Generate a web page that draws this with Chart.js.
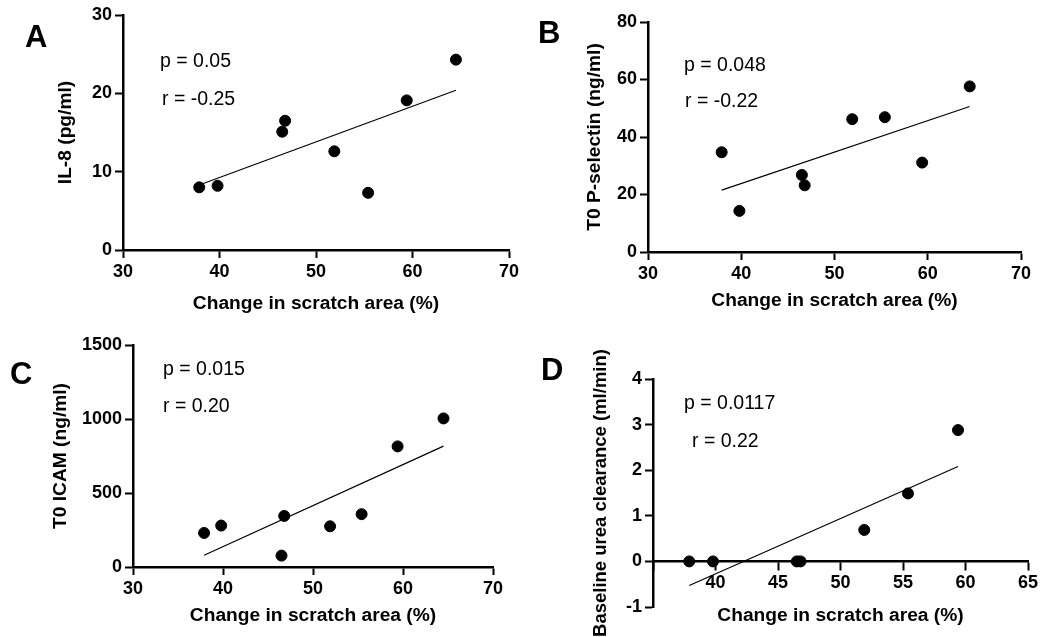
<!DOCTYPE html>
<html>
<head>
<meta charset="utf-8">
<script src="https://cdn.jsdelivr.net/npm/chart.js@4"></script>
<style>
    body { margin: 0; background: #fff; }
    #page { position: relative; width: 1046px; height: 637px; overflow: hidden; font-family: 'Liberation Sans', Arial, sans-serif; }
    .panel { position: absolute; }
    .letter { position: absolute; font-weight: bold; font-size: 31px; line-height: 31px; color: #000; }
    .stat { position: absolute; font-size: 19.5px; line-height: 20px; color: #000; white-space: nowrap; }
</style>
</head>
<body>
<div id="page">
    <div class="panel" style="left:0;top:0;width:523px;height:320px"><canvas id="chartA"></canvas></div>
    <div class="panel" style="left:523px;top:0;width:523px;height:320px"><canvas id="chartB"></canvas></div>
    <div class="panel" style="left:0;top:320px;width:523px;height:317px"><canvas id="chartC"></canvas></div>
    <div class="panel" style="left:523px;top:320px;width:523px;height:317px"><canvas id="chartD"></canvas></div>

    <div class="letter" style="left:25px;top:21px">A</div>
    <div class="letter" style="left:538px;top:17px">B</div>
    <div class="letter" style="left:10px;top:358px">C</div>
    <div class="letter" style="left:541px;top:354px">D</div>

    <div class="stat" style="left:160px;top:50px">p = 0.05</div>
    <div class="stat" style="left:162px;top:88px">r = -0.25</div>
    <div class="stat" style="left:684px;top:54px">p = 0.048</div>
    <div class="stat" style="left:685px;top:90px">r = -0.22</div>
    <div class="stat" style="left:163px;top:358px">p = 0.015</div>
    <div class="stat" style="left:163px;top:395px">r = 0.20</div>
    <div class="stat" style="left:684px;top:392px">p = 0.0117</div>
    <div class="stat" style="left:692px;top:430px">r = 0.22</div>
</div>
<script>
// change in scratch area (%) for each sample
const scratchArea = [37.9, 39.8, 46.5, 46.8, 51.9, 55.4, 59.4, 64.5];
const il8 = [8.0, 8.2, 15.1, 16.5, 12.6, 7.3, 19.1, 24.3];
const pSelectin = [34.7, 14.3, 26.8, 23.2, 46.2, 46.9, 31.1, 57.6];
const icam = [230, 280, 77, 345, 275, 357, 815, 1004];
// panel D has one sample fewer
const scratchAreaD = [37.9, 39.8, 46.5, 46.8, 51.9, 55.4, 59.4];
const ureaClearance = [0, 0, 0, 0, 0.69, 1.49, 2.88];

// regression line end points
const fitX = [37.9, 64.5];
const fitIl8 = [8.3, 20.4];
const fitPSelectin = [21.5, 50.6];
const fitIcam = [79, 817];
const fitXD = [37.9, 59.4];
const fitUrea = [-0.53, 2.08];

const xTitle = 'Change in scratch area (%)';
const tickFont = { family: "'Liberation Sans', Arial, sans-serif", size: 18, weight: 'bold' };
const titleFont = { family: "'Liberation Sans', Arial, sans-serif", size: 19.2, weight: 'bold' };

function toPoints(xs, ys) {
    return xs.map((x, i) => ({ x: x, y: ys[i] }));
}

function axis(min, max, step, title, extra) {
    return Object.assign({
        type: 'linear',
        min: min,
        max: max,
        ticks: { stepSize: step, color: '#000', font: tickFont, padding: 3, callback: v => String(v) },
        grid: { drawOnChartArea: false, drawTicks: true, tickLength: 8, tickWidth: 2, tickColor: '#000' },
        border: { display: true, color: '#000', width: 2.5 },
        title: { display: true, text: title, color: '#000', font: titleFont, padding: 0 }
    }, extra);
}

function makeChart(id, cfg) {
    const ctx = document.getElementById(id).getContext('2d');
    return new Chart(ctx, {
        type: 'scatter',
        data: {
            datasets: [{
                data: toPoints(cfg.xs, cfg.ys),
                backgroundColor: '#000',
                borderColor: '#000',
                pointRadius: 5.5,
                pointHoverRadius: 5.5,
                clip: false
            }, {
                type: 'line',
                data: toPoints(cfg.fitXs, cfg.fitYs),
                borderColor: '#000',
                borderWidth: 1.2,
                pointRadius: 0,
                fill: false,
                clip: false
            }]
        },
        options: {
            responsive: true,
            maintainAspectRatio: false,
            animation: false,
            layout: { padding: cfg.padding },
            plugins: { legend: { display: false }, tooltip: { enabled: false } },
            scales: {
                x: cfg.x,
                y: cfg.y
            }
        }
    });
}

// A: IL-8
makeChart('chartA', {
    xs: scratchArea, ys: il8, fitXs: fitX, fitYs: fitIl8,
    padding: { left: 54, right: 14, top: 15, bottom: 5 },
    x: axis(30, 70, 10, xTitle, { afterFit: s => { s.height = 65; } }),
    y: axis(0, 30, 10, 'IL-8 (pg/ml)', { afterFit: s => { s.width = 69; } })
});

// B: P-selectin
makeChart('chartB', {
    xs: scratchArea, ys: pSelectin, fitXs: fitX, fitYs: fitPSelectin,
    padding: { left: 60, right: 25, top: 22, bottom: 8 },
    x: axis(30, 70, 10, xTitle, { afterFit: s => { s.height = 60; } }),
    y: axis(0, 80, 20, 'T0 P-selectin (ng/ml)', { afterFit: s => { s.width = 65; } })
});

// C: ICAM
makeChart('chartC', {
    xs: scratchArea, ys: icam, fitXs: fitX, fitYs: fitIcam,
    padding: { left: 49, right: 30, top: 25, bottom: 10 },
    x: axis(30, 70, 10, xTitle, { afterFit: s => { s.height = 60; } }),
    y: axis(0, 1500, 500, 'T0 ICAM (ng/ml)', { afterFit: s => { s.width = 84; } })
});

// D: urea clearance, x axis crosses at y = 0
const xD = axis(35, 65, 5, xTitle, { position: { y: 0 } });
xD.ticks.callback = v => (v === 35 ? '' : String(v));
xD.title.padding = { top: 7, bottom: 0 };
makeChart('chartD', {
    xs: scratchAreaD, ys: ureaClearance, fitXs: fitXD, fitYs: fitUrea,
    padding: { left: 67, right: 18, top: 59, bottom: 30 },
    x: xD,
    y: axis(-1, 4, 1, 'Baseline urea clearance (ml/min)', {
        afterFit: s => { s.width = 63; },
        title: { display: true, text: 'Baseline urea clearance (ml/min)', color: '#000', font: Object.assign({}, titleFont, { size: 18.5 }), padding: 0 }
    })
});
</script>
</body>
</html>
